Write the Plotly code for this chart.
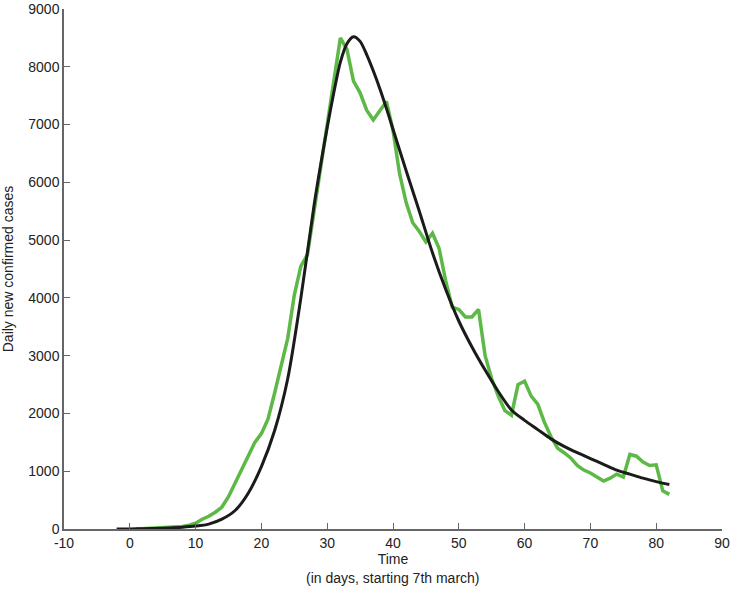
import plotly.graph_objects as go

# observed daily new cases (green)
days = list(range(1, 83))
cases = [0, 5, 10, 15, 20, 25, 35, 45, 65, 100,
         170, 220, 290, 380, 560, 790, 1050, 1280, 1500, 1650,
         1900, 2350, 2800, 3300, 4050, 4550, 4750, 5500, 6300, 7000,
         7700, 8500, 8300, 7750, 7550, 7250, 7080, 7250, 7400, 6900,
         6150, 5650, 5300, 5150, 4970, 5120, 4860, 4300, 3840, 3800,
         3670, 3670, 3800, 3000, 2600, 2300, 2050, 1970, 2500, 2560,
         2300, 2160, 1850, 1600, 1400, 1320, 1230, 1100, 1020, 970,
         900, 830, 880, 950, 900, 1290, 1260, 1160, 1100, 1110,
         660, 600]

# fitted model curve (black)
fit_days = [-2, 0, 2, 4, 6, 8, 10, 12, 14, 16, 18, 20, 22, 24, 26, 28, 29, 30, 31, 32, 33, 34,
            35, 36, 37, 38, 39, 40, 42, 44, 46, 48, 50, 52, 54, 56, 58, 60, 62, 64, 66, 68, 70,
            72, 74, 76, 78, 80, 82]
fit_cases = [0, 2, 5, 10, 18, 30, 50, 85, 170, 320, 620, 1080, 1700, 2600, 4000, 5600, 6300, 6950, 7550, 8080, 8400, 8520,
             8440, 8210, 7930, 7620, 7280, 6920, 6200, 5500, 4780, 4150, 3600, 3150, 2750, 2380, 2060, 1880, 1720, 1560, 1430, 1320, 1220,
             1120, 1020, 950, 880, 820, 770]

xticks = [-10, 0, 10, 20, 30, 40, 50, 60, 70, 80, 90]
xlabels = ['-10', '0', '10', '20', '30', '40', '50', '60', '70', '80', '90']
yticks = [0, 1000, 2000, 3000, 4000, 5000, 6000, 7000, 8000, 9000]

fnt = dict(family='Liberation Sans', size=14, color='#222222')

fig = go.Figure()
fig.add_trace(go.Scatter(x=days, y=cases, mode='lines', line=dict(color='#5cb946', width=3.5), name='Data'))
fig.add_trace(go.Scatter(x=fit_days, y=fit_cases, mode='lines', line=dict(color='#1b1b1b', width=3, shape='spline', smoothing=0.8), name='Fit'))

fig.update_layout(width=730, height=589, plot_bgcolor='#FFF', paper_bgcolor='#FFF', showlegend=False,
                  margin=dict(l=64, r=8, t=9, b=60), font=fnt)

fig.update_xaxes(range=[-10, 90], tickvals=xticks, ticktext=xlabels, ticks='inside', ticklen=6, tickcolor='#666', showgrid=False, zeroline=False,
                 showline=True, linecolor='#666', linewidth=1.5, tickfont=fnt,
                 title_text='Time', title_font=fnt, title_standoff=0, automargin=False)
fig.update_yaxes(range=[0, 9000], tickvals=yticks, ticks='inside', ticklen=6, tickcolor='#666', showgrid=False, zeroline=False,
                 showline=True, linecolor='#666', linewidth=1.5, tickfont=fnt,
                 title_text='Daily new confirmed cases', title_font=fnt, title_standoff=14, automargin=False)

fig.add_annotation(text='(in days, starting 7th march)', x=0.5, xref='paper', y=-0.094, yref='paper',
                   yanchor='middle', showarrow=False, font=fnt)

# page body has an 8px default margin; remove it so the figure sits at the window origin
fig.write_html("out.html", config={'displayModeBar': False},
               post_script="document.body.style.margin='0px';")
